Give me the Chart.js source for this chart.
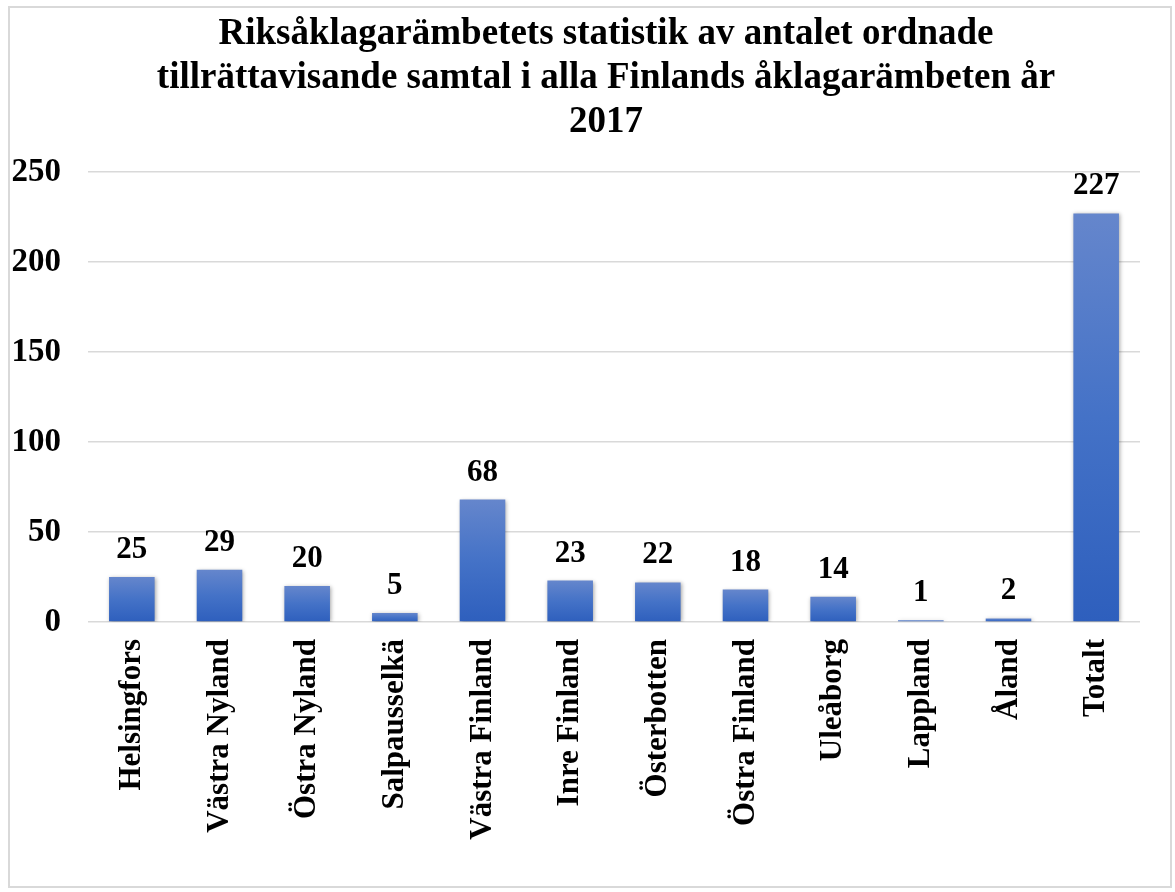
<!DOCTYPE html>
<html>
<head>
<meta charset="utf-8">
<script src="https://cdn.jsdelivr.net/npm/chart.js@4"></script>
<style>
  body { margin: 0; background: #fff; }
  #box {
    position: absolute; left: 8px; top: 6px;
    width: 1160px; height: 878px;
    border: 2px solid #d9d9d9;
  }
  #myChart { display: block; }
</style>
</head>
<body>
<div id="box"><canvas id="myChart" width="1160" height="878"></canvas></div>
<script>
const kontor = [
  "Helsingfors",
  "Västra Nyland",
  "Östra Nyland",
  "Salpausselkä",
  "Västra Finland",
  "Inre Finland",
  "Österbotten",
  "Östra Finland",
  "Uleåborg",
  "Lappland",
  "Åland",
  "Totalt",
];
const samtal = [25, 29, 20, 5, 68, 23, 22, 18, 14, 1, 2, 227];
const yTicks = [0, 50, 100, 150, 200, 250];

const serif = "'Liberation Serif', 'Times New Roman', serif";

// gradient per bar, light at top, darker at bottom
function barFill(ctx) {
  const chart = ctx.chart;
  const y = chart.scales.y;
  if (!chart.chartArea || !y) return "#4472c4";
  const top = y.getPixelForValue(ctx.raw);
  const base = y.getPixelForValue(0);
  if (!isFinite(top) || !isFinite(base) || base - top < 1) return "#4f77c8";
  const g = chart.ctx.createLinearGradient(0, top, 0, base);
  g.addColorStop(0, "#6586cc");
  g.addColorStop(0.5, "#4472c7");
  g.addColorStop(1, "#2e5fbd");
  return g;
}

const barLabels = {
  id: "barLabels",
  afterLayout(chart) {
    // title sits a bit right of the canvas centre in the original
    if (chart.titleBlock) chart.titleBlock.left += 62;
  },
  beforeDatasetsDraw(chart) {
    const c = chart.ctx;
    c.save();
    c.shadowColor = "rgba(0,0,0,0.35)";
    c.shadowBlur = 4;
    c.shadowOffsetX = 1;
    c.shadowOffsetY = 1;
  },
  afterDatasetsDraw(chart) {
    const c = chart.ctx;
    c.restore();
    c.save();
    c.font = "bold 31px " + serif;
    c.fillStyle = "#000";
    c.textAlign = "center";
    c.textBaseline = "alphabetic";
    chart.getDatasetMeta(0).data.forEach((el, i) => {
      c.fillText(samtal[i], el.x, el.y - 19);
    });
    c.restore();
  },
};

new Chart("myChart", {
  type: "bar",
  data: {
    labels: kontor,
    datasets: [
      {
        label: "Samtal",
        data: samtal,
        backgroundColor: barFill,
        borderWidth: 0,
        barPercentage: 0.52,
        categoryPercentage: 1,
      },
    ],
  },
  options: {
    responsive: false,
    animation: false,
    layout: { padding: { left: 0, right: 30, top: 0, bottom: 0 } },
    plugins: {
      legend: { display: false },
      tooltip: { enabled: false },
      title: {
        display: true,
        text: [
          "Riksåklagarämbetets statistik av antalet ordnade",
          "tillrättavisande samtal i alla Finlands åklagarämbeten år",
          "2017",
        ],
        color: "#000",
        font: { family: serif, size: 37, weight: "bold", lineHeight: 1.19 },
        padding: { top: 4, bottom: 28 },
      },
    },
    scales: {
      x: {
        grid: { display: false },
        border: { display: false },
        ticks: {
          color: "#000",
          font: { family: serif, size: 31, weight: "bold" },
          minRotation: 90,
          maxRotation: 90,
          padding: 9,
          autoSkip: false,
        },
        afterFit(scale) {
          scale.height = 264;
        },
      },
      y: {
        min: 0,
        max: 250,
        afterBuildTicks(scale) {
          scale.ticks = yTicks.map((v) => ({ value: v }));
        },
        grid: { color: "#d9d9d9", lineWidth: 1.5, drawTicks: false },
        border: { display: false },
        ticks: {
          color: "#000",
          font: { family: serif, size: 33, weight: "bold" },
          padding: 27,
        },
        afterFit(scale) {
          scale.width = 78;
        },
      },
    },
  },
  plugins: [barLabels],
});
</script>
</body>
</html>
